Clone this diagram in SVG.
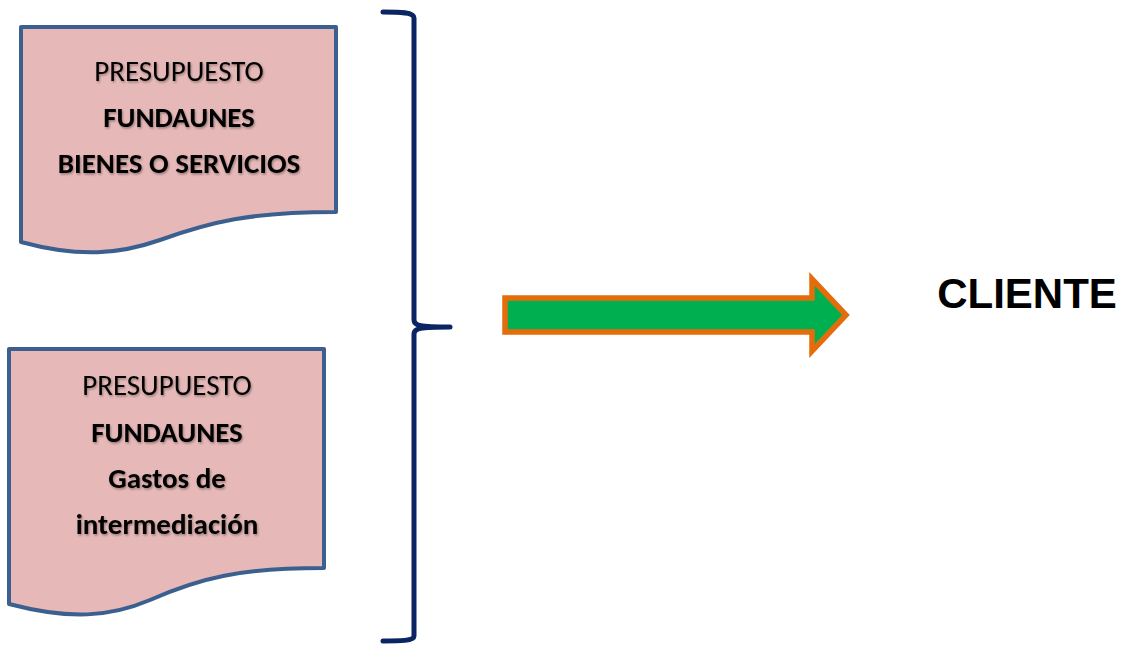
<svg xmlns="http://www.w3.org/2000/svg" width="1121" height="645" viewBox="0 0 1121 645">
<defs>
<style>
.doc{fill:#E6B9B8;stroke:#3B5F8E;stroke-width:4;stroke-linejoin:round}
.t{font-family:Carlito,"Liberation Sans",Arial,sans-serif;font-size:29px;fill:#000;text-anchor:middle;filter:url(#sh)}
.b{font-weight:bold}
.brace{fill:none;stroke:#0B2463;stroke-width:5;stroke-linecap:round;stroke-linejoin:round}
</style>
<filter id="sh" x="-10%" y="-30%" width="120%" height="160%">
<feDropShadow dx="1" dy="1.5" stdDeviation="0.8" flood-color="#000" flood-opacity="0.35"/>
</filter>
</defs>
<rect width="1121" height="645" fill="#fff"/>
<g id="node-bienes">
<path class="doc" d="M21,27 L336,27 L336,212 C250,212 210,222 160,240 C120,254 80,258 21,242 Z"/>
<text class="t" x="179" y="81">PRESUPUESTO</text>
<text class="t b" x="179" y="127">FUNDAUNES</text>
<text class="t b" x="179" y="173">BIENES O SERVICIOS</text>
</g>
<g id="node-gastos">
<path class="doc" d="M9,349 L324,349 L324,568 C240,568 200,578 150,600 C110,617 70,620 9,604 Z"/>
<text class="t" x="167" y="395">PRESUPUESTO</text>
<text class="t b" x="167" y="442">FUNDAUNES</text>
<text class="t b" x="167" y="488">Gastos de</text>
<text class="t b" x="167" y="534">intermediación</text>
</g>
<g id="connectors">
<path class="brace" d="M383,12 C400,12 414,12 414,18 L414,320 C414,326 420,327 450,327 C420,327 414,328 414,334 L414,636 C414,641 400,641 383,641"/>
<path id="arrow" d="M505,298 L812,298 L812,279 L846,315 L812,351 L812,332 L505,332 Z" fill="#00B050" stroke="#E46C0A" stroke-width="5.5" stroke-linejoin="miter"/>
</g>
<g id="node-cliente">
<text x="1027" y="308" font-family="'Liberation Sans',Arial,sans-serif" font-weight="bold" font-size="42" text-anchor="middle" fill="#000">CLIENTE</text>
</g>
</svg>
